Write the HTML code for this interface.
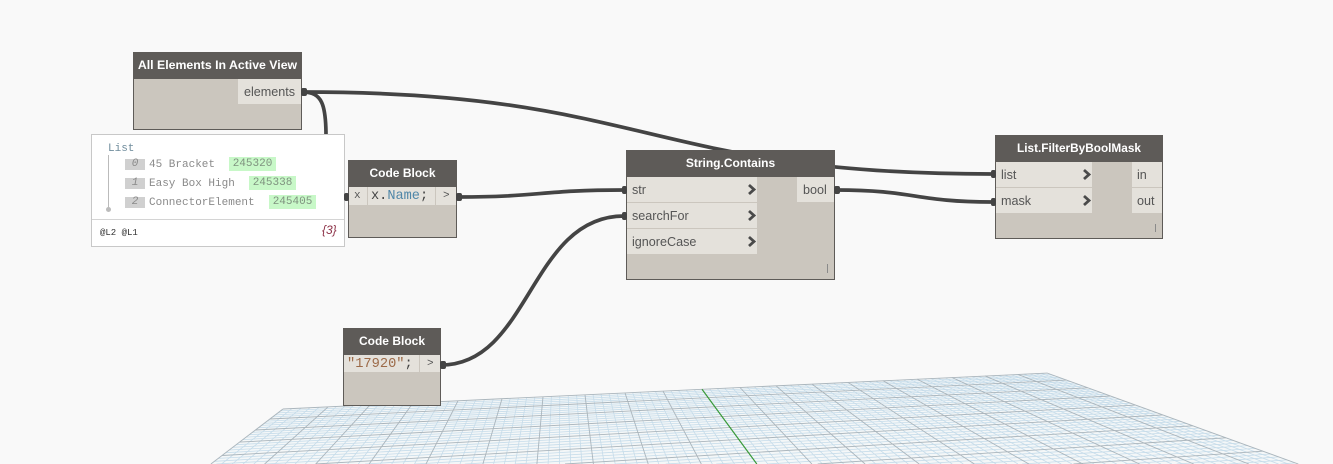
<!DOCTYPE html>
<html><head><meta charset="utf-8">
<style>
html,body{margin:0;padding:0;width:1333px;height:464px;overflow:hidden;background:#f9f9f9;font-family:"Liberation Sans",sans-serif}
#c{position:relative;width:1333px;height:464px;overflow:hidden}
svg{position:absolute;left:0;top:0;overflow:hidden}
.a{position:absolute;box-sizing:border-box;white-space:nowrap}
.n{background:#cbc6be;border:1px solid #5e5b58;box-sizing:border-box;position:absolute}
.h{position:absolute;background:#5e5b58;color:#fff;font-weight:bold;font-size:12px;text-align:center;line-height:27px;white-space:nowrap}
.p{position:absolute;background:#e4e1db;color:#555;font-size:12.6px;line-height:26px;padding-left:5px;box-sizing:border-box;white-space:nowrap}
.m{font-family:"Liberation Mono",monospace}
.t{font-family:"Liberation Mono",monospace;font-size:11px;color:#8a8a8a;line-height:14px}
.gc{font-size:11px;background:#c8f8c8;text-align:center;color:#7f927f;height:14px;width:47px}
</style></head><body><div id="c">
<svg id="g" width="1333" height="464"></svg>
<svg width="1333" height="464" fill="none" stroke="#444" stroke-width="3.7">
<path d="M303 92C647 92 647 174 992 174"/>
<path d="M303 92C322 92 326 105 326 136"/>
<path d="M345 197L349 197"/>
<path d="M459 197C540 197 540 190 624 190"/>
<path d="M441 365C530 365 530 216 624 216"/>
<path d="M836 190C915 190 915 202 992 202"/>
</svg>

<div class="n" style="left:133px;top:52px;width:169px;height:78px"></div>
<div class="h" style="left:133px;top:52px;width:169px;height:27px;font-size:12.3px">All Elements In Active View</div>
<div class="p" style="left:238px;top:79px;width:63px;height:25px;padding-left:6px">elements</div>

<div class="a" style="left:91px;top:134px;width:254px;height:113px;background:#fff;border:1px solid #c8c8c8"></div>
<div class="a" style="left:92px;top:219px;width:252px;height:1px;background:#d4d4d4"></div>
<div class="a t" style="left:108px;top:141px;color:#6f8c9c;line-height:15px;padding-top:1px">List</div>
<div class="a" style="left:108px;top:155px;width:1px;height:54px;background:#bbb"></div>
<div class="a" style="left:106px;top:207px;width:5px;height:5px;border-radius:50%;background:#bbb"></div>
<div class="a t" style="left:125px;top:159px;width:20px;height:11px;line-height:11px;background:#d0d0d0;text-align:center;font-style:italic">0</div>
<div class="a t" style="left:125px;top:178px;width:20px;height:11px;line-height:11px;background:#d0d0d0;text-align:center;font-style:italic">1</div>
<div class="a t" style="left:125px;top:197px;width:20px;height:11px;line-height:11px;background:#d0d0d0;text-align:center;font-style:italic">2</div>
<div class="a t" style="left:149px;top:158px">45 Bracket</div>
<div class="a t" style="left:149px;top:177px">Easy Box High</div>
<div class="a t" style="left:149px;top:196px">ConnectorElement</div>
<div class="a t gc" style="left:229px;top:157px">245320</div>
<div class="a t gc" style="left:249px;top:176px">245338</div>
<div class="a t gc" style="left:269px;top:195px">245405</div>
<div class="a m" style="left:100px;top:227px;font-size:9px;line-height:12px;color:#333">@L2 @L1</div>
<div class="a" style="left:322px;top:222px;font-size:12px;line-height:16px;font-style:italic;color:#8b2f45">{3}</div>

<div class="n" style="left:348px;top:160px;width:109px;height:78px"></div>
<div class="h" style="left:348px;top:160px;width:109px;height:27px">Code Block</div>
<div class="p m" style="left:349px;top:187px;width:18px;height:18px;line-height:19px;font-size:11px;padding-left:5px">x</div>
<div class="p m" style="left:368px;top:187px;width:67px;height:18px;line-height:19px;font-size:13.6px;padding-left:3px;color:#444">x.<span style="color:#4f86a8">Name</span>;</div>
<div class="p m" style="left:436px;top:187px;width:20px;height:18px;line-height:19px;font-size:11px;padding-left:7px">&gt;</div>

<div class="n" style="left:343px;top:328px;width:98px;height:78px"></div>
<div class="h" style="left:343px;top:328px;width:98px;height:27px">Code Block</div>
<div class="p m" style="left:344px;top:355px;width:75px;height:17px;line-height:19px;font-size:13.7px;padding-left:3px;color:#9c6a48">"17920"<span style="color:#444">;</span></div>
<div class="p m" style="left:420px;top:355px;width:20px;height:17px;line-height:19px;font-size:11px;padding-left:7px">&gt;</div>

<div class="n" style="left:626px;top:150px;width:209px;height:130px"></div>
<div class="h" style="left:626px;top:150px;width:209px;height:27px">String.Contains</div>
<div class="p" style="left:627px;top:177px;width:130px;height:25px">str</div>
<div class="p" style="left:627px;top:203px;width:130px;height:25px">searchFor</div>
<div class="p" style="left:627px;top:229px;width:130px;height:25px">ignoreCase</div>
<div class="p" style="left:797px;top:177px;width:37px;height:25px;padding-left:6px">bool</div>
<div class="a" style="left:827px;top:264px;width:1px;height:9px;background:#8a8a8a"></div>

<div class="n" style="left:995px;top:135px;width:168px;height:104px"></div>
<div class="h" style="left:995px;top:135px;width:168px;height:27px;font-size:11.8px">List.FilterByBoolMask</div>
<div class="p" style="left:996px;top:162px;width:96px;height:25px">list</div>
<div class="p" style="left:996px;top:188px;width:96px;height:25px">mask</div>
<div class="p" style="left:1132px;top:162px;width:30px;height:25px">in</div>
<div class="p" style="left:1132px;top:188px;width:30px;height:25px">out</div>
<div class="a" style="left:1155px;top:224px;width:1px;height:8px;background:#8a8a8a"></div>

<svg width="1333" height="464" fill="none" stroke="#4a4a4a" stroke-width="2.8">
<path d="M749 185L754 189.5L749 194M749 211L754 215.5L749 220M749 237L754 241.5L749 246M1084 170L1089 174.5L1084 179M1084 196L1089 200.5L1084 205"/>
<g fill="#444" stroke="none">
<rect x="301" y="88" width="6" height="8" rx="2"/>
<rect x="344" y="193" width="5" height="8" rx="2"/>
<rect x="456" y="193" width="6" height="8" rx="2"/>
<rect x="622" y="186" width="5" height="8" rx="2"/>
<rect x="622" y="212" width="5" height="8" rx="2"/>
<rect x="834" y="186" width="6" height="8" rx="2"/>
<rect x="991" y="170" width="5" height="8" rx="2"/>
<rect x="991" y="198" width="5" height="8" rx="2"/>
<rect x="440" y="361" width="6" height="8" rx="2"/>
</g>
</svg>
</div>
<script>
(function(){
var V1=[561,197],V2=[5480,165];
var xs=[283,328,370,413,458,502,543,585,625,663,702,740,776,812,848,883,917,952,985,1018,1047];
function by(x){return 409-(x-283)*36/764;}
function isect(a,b,c,d){var x1=a[0],y1=a[1],x2=b[0],y2=b[1],x3=c[0],y3=c[1],x4=d[0],y4=d[1];
var den=(x1-x2)*(y3-y4)-(y1-y2)*(x3-x4);
var p=(x1*y2-y1*x2),q=(x3*y4-y3*x4);
return [(p*(x3-x4)-(x1-x2)*q)/den,(p*(y3-y4)-(y1-y2)*q)/den];}
var s='',minor='',major='';
function toBottom(x,y){var t=(464-y)/(y-V1[1]);return [x+(x-V1[0])*t,464];}
function L(a,b,maj){var l='<line x1="'+a[0].toFixed(1)+'" y1="'+a[1].toFixed(1)+'" x2="'+b[0].toFixed(1)+'" y2="'+b[1].toFixed(1)+'"/>';if(maj)major+=l;else minor+=l;}
for(var i=0;i<xs.length;i++){
  var x=xs[i],y=by(x);
  if(i!=10)L([x,y],toBottom(x,y),true);
  if(i<xs.length-1){for(var k=1;k<5;k++){var xx=x+(xs[i+1]-x)*k/5,yy=by(xx);L([xx,yy],toBottom(xx,yy),false);}}
}
var RP=[1047,373];
for(var n=0;n<=70;n++){
  var kk=0.045*n/5,ly=197+212/(1-kk);
  if(ly>640)break;
  var lx=283+(ly-409)*(V1[0]-283)/(V1[1]-409);
  var P=[lx,ly];
  var R=isect(P,V2,V1,RP);
  if(R[1]>=464)break;
  if(P[1]>464)P=isect(P,R,[0,464],[1,464]);
  L(P,R,n%5==0);
}
s='<polygon points="283,409 1047,373 1300,464 211,464" fill="#f4f7f8"/>';
s+='<g stroke="#c6dcea" stroke-width=".8">'+minor+'</g><g stroke="#aab5bc" stroke-width=".9">'+major+'</g>';
var a=[702,by(702)],b=toBottom(a[0],a[1]);
s+='<line x1="'+a[0]+'" y1="'+a[1]+'" x2="'+b[0]+'" y2="'+b[1]+'" stroke="#3a9a3a" stroke-width="1.2"/>';
document.getElementById('g').innerHTML=s;
})();
</script>
</body></html>
